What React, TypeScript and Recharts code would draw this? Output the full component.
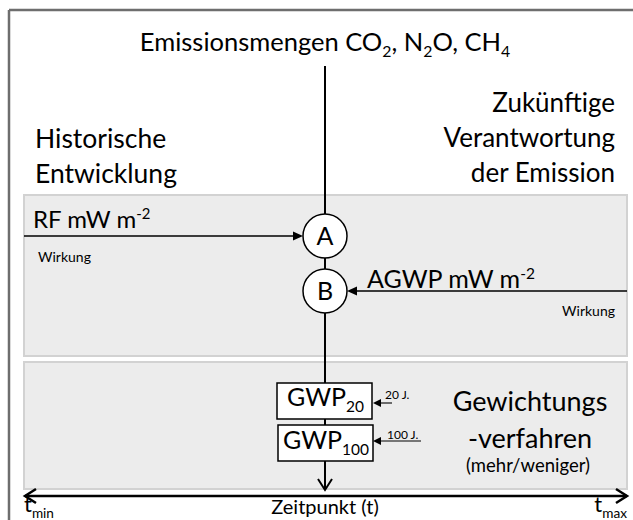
import React from 'react';
import { ComposedChart, XAxis, YAxis, ReferenceArea, ReferenceLine, ReferenceDot, Scatter } from 'recharts';

const FONT = 'Lato, "Open Sans", sans-serif';

type Kind = 'n' | 'sub' | 'sup';
type Part = [string, Kind];

// Diagram coordinates: x runs 0..633 from left to right, y runs 0..520 from top to bottom
const frameLines = [
  { from: [9, 522], to: [9, 10] },
  { from: [9, 10], to: [640, 10] },
];

const panels = [
  { id: 'wirkung', x1: 24, x2: 627, y1: 195, y2: 356 },
  { id: 'gewichtung', x1: 24, x2: 627, y1: 362, y2: 489 },
];

const nodes = [
  { id: 'A', x: 325, y: 236 },
  { id: 'B', x: 325, y: 291 },
];

const boxes = [
  { id: 'GWP20', x1: 277, x2: 372, y1: 383, y2: 419 },
  { id: 'GWP100', x1: 278, x2: 373, y1: 425, y2: 461 },
];

const stems = [
  { from: [325, 66], to: [325, 214] },
  { from: [325, 258], to: [325, 269] },
  { from: [325, 313], to: [325, 383] },
  { from: [325, 419], to: [325, 425] },
];

const arrows = [
  { from: [325, 461], to: [325, 490], head: 'open', w: 2 },
  { from: [24, 236], to: [303, 236], head: 'filled', w: 1.4 },
  { from: [627, 291], to: [347, 291], head: 'filled', w: 1.4 },
  { from: [392, 403], to: [373, 403], head: 'small', w: 1.1 },
  { from: [421, 441], to: [373, 441], head: 'small', w: 1.1 },
  { from: [25, 496], to: [627, 496], head: 'both', w: 2.5 },
];

const labels: { x: number; y: number; anchor: string; size: number; parts: Part[] }[] = [
  { x: 325, y: 51, anchor: 'middle', size: 25.5, parts: [['Emissionsmengen CO', 'n'], ['2', 'sub'], [', N', 'n'], ['2', 'sub'], ['O, CH', 'n'], ['4', 'sub']] },
  { x: 35, y: 148, anchor: 'start', size: 26.5, parts: [['Historische', 'n']] },
  { x: 35, y: 183, anchor: 'start', size: 26.5, parts: [['Entwicklung', 'n']] },
  { x: 615, y: 112, anchor: 'end', size: 26, parts: [['Zukünftige', 'n']] },
  { x: 615, y: 147, anchor: 'end', size: 26, parts: [['Verantwortung', 'n']] },
  { x: 615, y: 182, anchor: 'end', size: 26, parts: [['der Emission', 'n']] },
  { x: 33, y: 228, anchor: 'start', size: 24, parts: [['RF mW m', 'n'], ['-2', 'sup']] },
  { x: 38, y: 262, anchor: 'start', size: 14, parts: [['Wirkung', 'n']] },
  { x: 367, y: 288, anchor: 'start', size: 25, parts: [['AGWP mW m', 'n'], ['-2', 'sup']] },
  { x: 615, y: 316, anchor: 'end', size: 14, parts: [['Wirkung', 'n']] },
  { x: 325, y: 245, anchor: 'middle', size: 25, parts: [['A', 'n']] },
  { x: 325, y: 300, anchor: 'middle', size: 25, parts: [['B', 'n']] },
  { x: 287, y: 406, anchor: 'start', size: 25, parts: [['GWP', 'n'], ['20', 'sub']] },
  { x: 283, y: 449, anchor: 'start', size: 25, parts: [['GWP', 'n'], ['100', 'sub']] },
  { x: 385, y: 399, anchor: 'start', size: 12, parts: [['20 J.', 'n']] },
  { x: 387, y: 439, anchor: 'start', size: 12, parts: [['100 J.', 'n']] },
  { x: 530, y: 411, anchor: 'middle', size: 27, parts: [['Gewichtungs', 'n']] },
  { x: 530, y: 448, anchor: 'middle', size: 27, parts: [['-verfahren', 'n']] },
  { x: 528, y: 472, anchor: 'middle', size: 18.5, parts: [['(mehr/weniger)', 'n']] },
  { x: 325, y: 514, anchor: 'middle', size: 20, parts: [['Zeitpunkt (t)', 'n']] },
  { x: 24, y: 512, anchor: 'start', size: 22, parts: [['t', 'n'], ['min', 'sub']] },
  { x: 627, y: 512, anchor: 'end', size: 22, parts: [['t', 'n'], ['max', 'sub']] },
];

const RichText = (props: any) => {
  const { cx, cy, payload } = props;
  if (cx == null || cy == null) return <g />;
  const size: number = payload.size;
  let shift = 0;
  const spans = (payload.parts as Part[]).map(([t, k], i) => {
    const target = k === 'sub' ? size * 0.25 : k === 'sup' ? -size * 0.38 : 0;
    const dy = target - shift;
    shift = target;
    return (
      <tspan key={i} dy={dy} fontSize={k === 'n' ? size : size * 0.62}>
        {t}
      </tspan>
    );
  });
  return (
    <text x={cx} y={cy} textAnchor={payload.anchor} fontFamily={FONT} fontSize={size} fill="#000">
      {spans}
    </text>
  );
};

const makeArrow = (head: string, w: number) => (p: any) => {
  const { x1, y1, x2, y2 } = p;
  const dx = x2 - x1;
  const dy = y2 - y1;
  const len = Math.sqrt(dx * dx + dy * dy) || 1;
  const ux = dx / len;
  const uy = dy / len;
  const nx = -uy;
  const ny = ux;
  const els: React.ReactNode[] = [];
  if (head === 'filled' || head === 'small') {
    const hl = head === 'filled' ? 10 : 8;
    const hw = head === 'filled' ? 4.5 : 4;
    const bx = x2 - ux * hl;
    const by = y2 - uy * hl;
    els.push(<line key="l" x1={x1} y1={y1} x2={bx} y2={by} stroke="#000" strokeWidth={w} />);
    els.push(
      <polygon
        key="h"
        points={`${x2},${y2} ${bx + nx * hw},${by + ny * hw} ${bx - nx * hw},${by - ny * hw}`}
        fill="#000"
      />
    );
  } else {
    els.push(<line key="l" x1={x1} y1={y1} x2={x2} y2={y2} stroke="#000" strokeWidth={w} />);
    const chev = (tx: number, ty: number, sx: number, sy: number, k: string) => {
      const hl = 11;
      const hw = 7;
      const bx = tx - sx * hl;
      const by = ty - sy * hl;
      return (
        <polyline
          key={k}
          points={`${bx + -sy * hw},${by + sx * hw} ${tx},${ty} ${bx - -sy * hw},${by - sx * hw}`}
          fill="none"
          stroke="#000"
          strokeWidth={w}
          strokeLinejoin="miter"
        />
      );
    };
    els.push(chev(x2, y2, ux, uy, 'e'));
    if (head === 'both') els.push(chev(x1, y1, -ux, -uy, 's'));
  }
  return <g>{els}</g>;
};

const plainLine = (color: string, w: number) => (p: any) => (
  <line x1={p.x1} y1={p.y1} x2={p.x2} y2={p.y2} stroke={color} strokeWidth={w} />
);

export default function App() {
  return (
    <div style={{ position: 'absolute', left: 0, top: 0, width: 633, height: 520, background: '#fff' }}>
      <ComposedChart width={633} height={520} margin={{ top: 0, right: 0, bottom: 0, left: 0 }}>
        <XAxis type="number" dataKey="x" domain={[0, 633]} hide allowDataOverflow />
        <YAxis type="number" dataKey="y" domain={[0, 520]} reversed hide allowDataOverflow />
        {panels.map((p) => (
          <ReferenceArea
            key={p.id}
            x1={p.x1}
            x2={p.x2}
            y1={p.y1}
            y2={p.y2}
            fill="#ececec"
            fillOpacity={1}
            stroke="#d2d2d2"
            strokeWidth={2}
            ifOverflow="visible"
          />
        ))}
        {frameLines.map((l, i) => (
          <ReferenceLine
            key={'f' + i}
            segment={[{ x: l.from[0], y: l.from[1] }, { x: l.to[0], y: l.to[1] }]}
            ifOverflow="visible"
            shape={plainLine('#6e6e6e', 2.5)}
          />
        ))}
        {boxes.map((b) => (
          <ReferenceArea
            key={b.id}
            x1={b.x1}
            x2={b.x2}
            y1={b.y1}
            y2={b.y2}
            fill="#fff"
            fillOpacity={1}
            stroke="#000"
            strokeWidth={1.5}
            ifOverflow="visible"
          />
        ))}
        {stems.map((l, i) => (
          <ReferenceLine
            key={'s' + i}
            segment={[{ x: l.from[0], y: l.from[1] }, { x: l.to[0], y: l.to[1] }]}
            ifOverflow="visible"
            shape={plainLine('#000', 2)}
          />
        ))}
        {arrows.map((a, i) => (
          <ReferenceLine
            key={'a' + i}
            segment={[{ x: a.from[0], y: a.from[1] }, { x: a.to[0], y: a.to[1] }]}
            ifOverflow="visible"
            shape={makeArrow(a.head, a.w)}
          />
        ))}
        {nodes.map((n) => (
          <ReferenceDot
            key={n.id}
            x={n.x}
            y={n.y}
            r={22}
            fill="#fff"
            stroke="#000"
            strokeWidth={1.5}
            ifOverflow="visible"
          />
        ))}
        <Scatter data={labels} dataKey="y" shape={RichText} isAnimationActive={false} legendType="none" />
      </ComposedChart>
    </div>
  );
}
